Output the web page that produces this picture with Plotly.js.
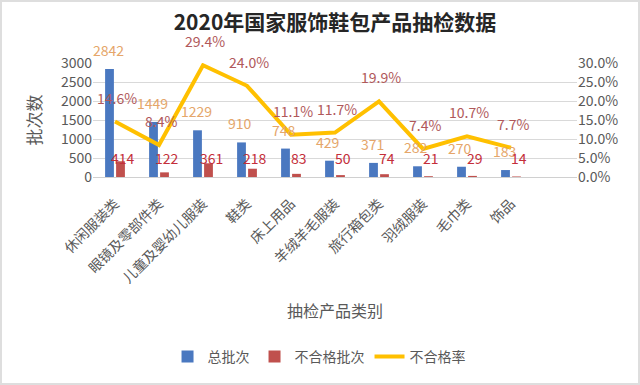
<!DOCTYPE html>
<html>
<head>
<meta charset="utf-8">
<script src="https://cdn.plot.ly/plotly-3.0.1.min.js"></script>
<style>
  html, body { margin: 0; padding: 0; background: #fff; }
  #wrap { position: relative; width: 640px; height: 385px; }
  #chart { width: 640px; height: 385px; }
  #frame { position: absolute; left: 0; top: 0; width: 640px; height: 385px; box-sizing: border-box; border: 2px solid #dedede; pointer-events: none; }
</style>
</head>
<body>
<div id="wrap"><div id="chart"></div><div id="frame"></div></div>
<script>
const categories = ['休闲服装类', '眼镜及零部件类', '儿童及婴幼儿服装', '鞋类', '床上用品', '羊绒羊毛服装', '旅行箱包类', '羽绒服装', '毛巾类', '饰品'];
const totalBatches = [2842, 1449, 1229, 910, 748, 429, 371, 282, 270, 183];
const failedBatches = [414, 122, 361, 218, 83, 50, 74, 21, 29, 14];
const failRate = [0.146, 0.084, 0.294, 0.240, 0.111, 0.117, 0.199, 0.074, 0.107, 0.077];
const leftTicks = [0, 500, 1000, 1500, 2000, 2500, 3000];
const rightTicks = [0, 0.05, 0.10, 0.15, 0.20, 0.25, 0.30];

const FONT = '"Noto Sans CJK SC", "Open Sans", sans-serif';
const GRAY = '#595959';

const traces = [
  {
    type: 'bar', name: '总批次', x: categories, y: totalBatches,
    marker: { color: '#4A78C0' }, hoverinfo: 'skip'
  },
  {
    type: 'bar', name: '不合格批次', x: categories, y: failedBatches,
    marker: { color: '#C0504D' }, hoverinfo: 'skip'
  },
  {
    type: 'scatter', mode: 'lines', name: '不合格率', x: categories, y: failRate,
    yaxis: 'y2', line: { color: '#FFC000', width: 4 }, hoverinfo: 'skip'
  }
];

const annotations = [];
categories.forEach((c, i) => {
  annotations.push({
    x: c, y: totalBatches[i], xref: 'x', yref: 'y', text: String(totalBatches[i]),
    showarrow: false, xshift: -7, yshift: 19,
    font: { family: FONT, size: 14, color: '#E5A66A' }
  });
  annotations.push({
    x: c, y: 500, xref: 'x', yref: 'y', text: String(failedBatches[i]),
    showarrow: false, xshift: 8, yshift: 0,
    font: { family: FONT, size: 14, color: '#C42E3A' }
  });
  annotations.push({
    x: c, y: failRate[i], xref: 'x', yref: 'y2', text: (failRate[i] * 100).toFixed(1) + '%',
    showarrow: false, xshift: 2, yshift: 24,
    font: { family: FONT, size: 14, color: '#B0585A' }
  });
});

const layout = {
  width: 640, height: 385,
  margin: { l: 93, r: 63, t: 63, b: 208 },
  paper_bgcolor: '#ffffff', plot_bgcolor: '#ffffff',
  font: { family: FONT, color: GRAY },
  title: {
    text: '<b>2020年国家服饰鞋包产品抽检数据</b>',
    font: { family: FONT, size: 21, color: '#262626' },
    x: 0.5, xref: 'paper', y: 1 - 23 / 385, yref: 'container', yanchor: 'middle'
  },
  barmode: 'group', bargap: 0.5, bargroupgap: 0.2,
  showlegend: true,
  legend: {
    orientation: 'h', x: 0.467, xanchor: 'center', yref: 'container', y: 1 - 357 / 385, yanchor: 'middle',
    font: { family: FONT, size: 14, color: GRAY }, traceorder: 'normal', itemwidth: 30
  },
  xaxis: {
    type: 'category', range: [-0.5, 10.5], tickangle: -45, ticklabelstandoff: 12,
    tickfont: { family: FONT, size: 14, color: GRAY },
    showline: true, linecolor: '#d0d0d0', linewidth: 1, ticks: '', showgrid: false,
    title: { text: '抽检产品类别', font: { family: FONT, size: 16, color: GRAY }, standoff: 20 }
  },
  yaxis: {
    range: [0, 3000], tickvals: leftTicks, ticktext: leftTicks.map(String),
    tickfont: { family: FONT, size: 14, color: GRAY },
    gridcolor: '#d9d9d9', gridwidth: 1, zeroline: false, ticks: '',
    title: { text: '批次数', font: { family: FONT, size: 17, color: GRAY }, standoff: 14 }
  },
  yaxis2: {
    overlaying: 'y', side: 'right', range: [0, 0.30], tickvals: rightTicks,
    tickformat: '.1%', tickfont: { family: FONT, size: 14, color: GRAY },
    showgrid: false, zeroline: false, ticks: ''
  },
  annotations: annotations
};

Plotly.newPlot('chart', traces, layout, { displayModeBar: false, staticPlot: true });
</script>
</body>
</html>
